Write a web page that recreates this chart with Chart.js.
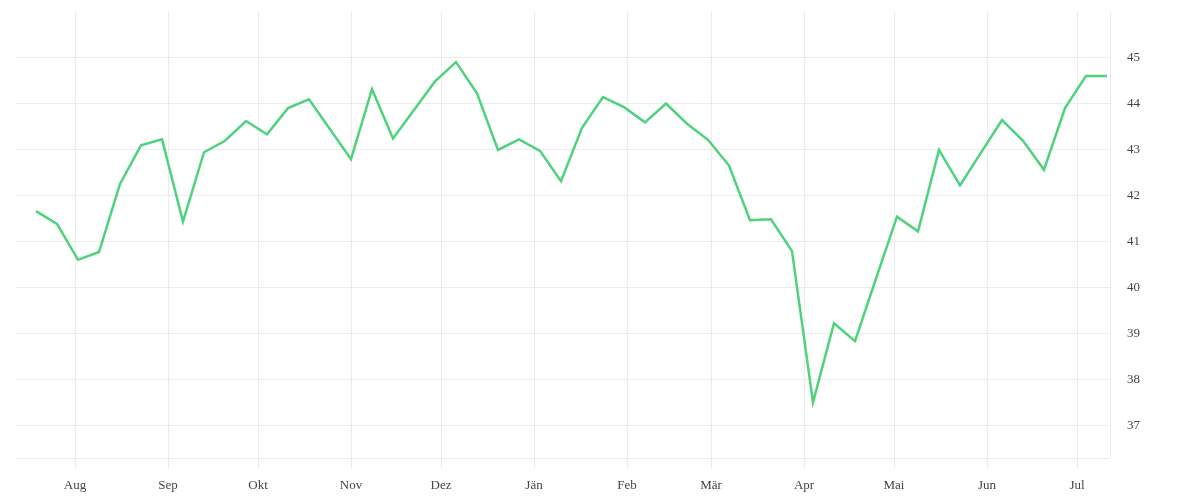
<!DOCTYPE html>
<html>
<head>
<meta charset="utf-8">
<script src="https://cdn.jsdelivr.net/npm/chart.js@4/dist/chart.umd.min.js"></script>
<style>
   html, body { margin: 0; padding: 0; background: #fff; }
   #wrap { width: 1200px; height: 500px; }
</style>
</head>
<body>
<div id="wrap"><canvas id="chart"></canvas></div>
<script>
// weekly closing values
const weekDates = [
   '2024-07-19','2024-07-26','2024-08-02','2024-08-09','2024-08-16','2024-08-23','2024-08-30',
   '2024-09-06','2024-09-13','2024-09-20','2024-09-27','2024-10-04','2024-10-11','2024-10-18',
   '2024-10-25','2024-11-01','2024-11-08','2024-11-15','2024-11-22','2024-11-29','2024-12-06',
   '2024-12-13','2024-12-20','2024-12-27','2025-01-03','2025-01-10','2025-01-17','2025-01-24',
   '2025-01-31','2025-02-07','2025-02-14','2025-02-21','2025-02-28','2025-03-07','2025-03-14',
   '2025-03-21','2025-03-28','2025-04-04','2025-04-11','2025-04-18','2025-04-25','2025-05-02',
   '2025-05-09','2025-05-16','2025-05-23','2025-05-30','2025-06-06','2025-06-13','2025-06-20',
   '2025-06-27','2025-07-04','2025-07-11'
];
const weekValues = [
   41.67, 41.39, 40.61, 40.78, 42.26, 43.10, 43.23,
   41.44, 42.95, 43.20, 43.63, 43.34, 43.91, 44.10,
   43.45, 42.80, 44.32, 43.25, 43.87, 44.49, 44.91,
   44.23, 43.00, 43.23, 42.98, 42.32, 43.48, 44.15,
   43.93, 43.60, 44.01, 43.57, 43.22, 42.66, 41.47,
   41.49, 40.80, 37.51, 39.23, 38.84, 40.20, 41.55,
   41.23, 43.00, 42.23, 42.94, 43.65, 43.20, 42.57,
   43.91, 44.61, 44.61
];

const monthStarts = ['2024-08-01','2024-09-01','2024-10-01','2024-11-01','2024-12-01','2025-01-01',
   '2025-02-01','2025-03-01','2025-04-01','2025-05-01','2025-06-01','2025-07-01'];
const monthLabels = ['Aug','Sep','Okt','Nov','Dez','Jän','Feb','Mär','Apr','Mai','Jun','Jul'];
const rangeStart = '2024-07-12';
const rangeEnd = '2025-07-12';

const yTicks = [37, 38, 39, 40, 41, 42, 43, 44, 45];
const yMin = 36.3;
const yMax = 46;

function toDay(s){
   return Date.parse(s + 'T00:00:00Z') / 86400000;
}

let points = weekDates.map((d, i) => ({x: toDay(d), y: weekValues[i]}));
let monthDays = monthStarts.map(toDay);

const gridColor = '#ececec';
Chart.defaults.font.family = '"Liberation Serif", serif';
Chart.defaults.font.size = 13;
Chart.defaults.color = '#444';

new Chart(document.getElementById('chart').getContext('2d'), {
   type: 'line',
   data: {
      datasets: [{
         data: points,
         borderColor: '#4fd27c',
         borderWidth: 2.5,
         pointRadius: 0,
         tension: 0,
         fill: false
      }]
   },
   options: {
      responsive: true,
      maintainAspectRatio: false,
      animation: false,
      layout: { padding: { top: 12, left: 15, right: 0, bottom: 0 } },
      plugins: { legend: { display: false }, tooltip: { enabled: false } },
      scales: {
         x: {
            type: 'linear',
            min: toDay(rangeStart),
            max: toDay(rangeEnd),
            afterBuildTicks: (scale) => {
               scale.ticks = monthDays.map(v => ({value: v}));
            },
            afterFit: (scale) => { scale.height = 42; },
            grid: { color: gridColor, tickLength: 10, drawTicks: true, tickColor: gridColor },
            border: { display: true, color: gridColor },
            ticks: {
               autoSkip: false,
               maxRotation: 0,
               padding: 10,
               callback: (v) => monthLabels[monthDays.indexOf(v)]
            }
         },
         y: {
            position: 'right',
            min: yMin,
            max: yMax,
            afterBuildTicks: (scale) => {
               scale.ticks = yTicks.map(v => ({value: v}));
            },
            afterFit: (scale) => {
               // label padding would otherwise push the plot area down
               scale.width = 90;
               scale.paddingTop = 0;
               scale.paddingBottom = 0;
            },
            grid: { color: gridColor, drawTicks: false },
            border: { display: true, color: gridColor },
            ticks: { padding: 17, callback: (v) => v }
         }
      }
   }
});
</script>
</body>
</html>
